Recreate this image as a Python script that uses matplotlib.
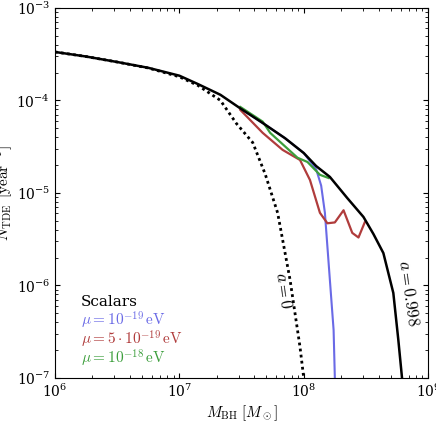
import numpy as np
import matplotlib.pyplot as plt

plt.rcParams['font.family'] = 'DejaVu Serif'
plt.rcParams['mathtext.fontset'] = 'cm'

# a = 0.998 (black solid)
m_spin = [1e6, 10**6.25, 10**6.5, 10**6.75, 1e7, 10**7.15, 10**7.33, 10**7.49, 10**7.67, 10**7.85, 1e8,
          10**8.1, 10**8.21, 10**8.35, 10**8.48, 10**8.56, 10**8.64, 10**8.72, 10**8.76, 10**8.79]
n_spin = [3.34e-4, 2.98e-4, 2.6e-4, 2.25e-4, 1.85e-4, 1.5e-4, 1.15e-4, 8.2e-5, 5.7e-5, 3.9e-5, 2.7e-5,
          1.95e-5, 1.49e-5, 8.8e-6, 5.5e-6, 3.6e-6, 2.24e-6, 8.3e-7, 2.6e-7, 1e-7]
# a = 0 (black dotted)
m_zero = [1e6, 10**6.25, 10**6.5, 10**6.75, 1e7, 10**7.15, 10**7.33, 10**7.46, 10**7.59, 10**7.69,
          10**7.79, 10**7.89, 10**7.97, 1e8]
n_zero = [3.34e-4, 2.98e-4, 2.6e-4, 2.24e-4, 1.8e-4, 1.45e-4, 1.0e-4, 5.6e-5, 3.5e-5, 1.6e-5,
          6.1e-6, 1.15e-6, 2.16e-7, 1e-7]
# mu = 1e-19 eV
m_blue = [10**7.49, 10**7.67, 10**7.85, 1e8, 10**8.1, 10**8.14, 10**8.17, 10**8.21, 10**8.24, 10**8.25]
n_blue = [8.2e-5, 5.7e-5, 3.9e-5, 2.7e-5, 1.8e-5, 1.2e-5, 6.1e-6, 1.15e-6, 3.3e-7, 1e-7]
# mu = 5e-19 eV
m_red = [10**7.49, 10**7.67, 10**7.83, 10**7.97, 10**8.05, 10**8.13, 10**8.19, 10**8.25, 10**8.32,
         10**8.39, 10**8.44, 10**8.49]
n_red = [7.9e-5, 4.46e-5, 2.92e-5, 2.27e-5, 1.38e-5, 6.1e-6, 4.7e-6, 4.8e-6, 6.5e-6,
         3.7e-6, 3.3e-6, 4.8e-6]
# mu = 1e-18 eV
m_green = [10**7.49, 10**7.67, 10**7.73, 10**7.95, 10**8.03, 10**8.13, 10**8.2]
n_green = [8.5e-5, 5.9e-5, 4.46e-5, 2.4e-5, 2.16e-5, 1.57e-5, 1.45e-5]

blue, red, green = '#6a6ae6', '#b03c3c', '#3c9e3c'

fig = plt.figure(figsize=(4.36, 4.37), dpi=100)
ax = fig.add_axes([0.126, 0.135, 0.856, 0.847])
ax.plot(m_blue, n_blue, color=blue, lw=1.5)
ax.plot(m_red, n_red, color=red, lw=1.6)
ax.plot(m_green, n_green, color=green, lw=1.6)
ax.plot(m_zero, n_zero, color='k', lw=2, ls=(0, (1, 1.2)))
ax.plot(m_spin, n_spin, color='k', lw=1.8)

ax.set_xscale('log')
ax.set_yscale('log')
ax.set_xlim(1e6, 1e9)
ax.set_ylim(1e-7, 1e-3)
ax.tick_params(which='both', direction='in', top=True, right=True, labelsize=10)
for lab in ax.get_xticklabels():
    lab.set_clip_on(False)
ax.set_xlabel(r'$M_{\rm BH}\;[M_\odot]$', fontsize=11, labelpad=2)
ax.set_ylabel(r'$\dot{N}_{\rm TDE}\;\,[\rm year^{-1}]$', fontsize=11, labelpad=1)

ax.text(10**7.83, 10**-6.05, r'$a = 0$', rotation=-82, fontsize=12, ha='center', va='center')
ax.text(10**8.84, 10**-6.08, r'$a = 0.998$', rotation=-82, fontsize=12, ha='center', va='center')

ax.text(0.07, 0.205, 'Scalars', transform=ax.transAxes, fontsize=11, va='center')
ax.text(0.07, 0.155, r'$\mu = 10^{-19}\,\rm eV$', transform=ax.transAxes, fontsize=11, color=blue, va='center')
ax.text(0.07, 0.103, r'$\mu = 5\cdot 10^{-19}\,\rm eV$', transform=ax.transAxes, fontsize=11, color=red, va='center')
ax.text(0.07, 0.052, r'$\mu = 10^{-18}\,\rm eV$', transform=ax.transAxes, fontsize=11, color=green, va='center')

fig.savefig('out.png', dpi=100)
